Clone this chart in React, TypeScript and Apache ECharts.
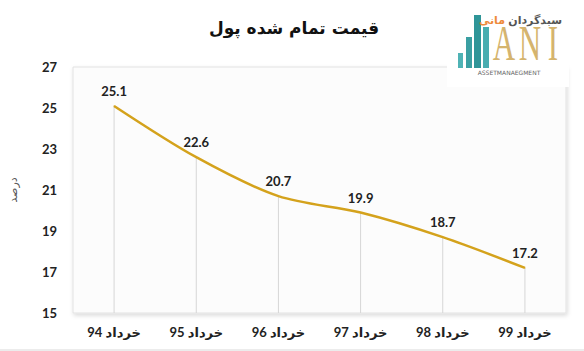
import React, { useEffect, useRef } from "react";
import * as echarts from "echarts";

const categories = ["خرداد 94", "خرداد 95", "خرداد 96", "خرداد 97", "خرداد 98", "خرداد 99"];
const values = [25.1, 22.6, 20.7, 19.9, 18.7, 17.2];
const yTicks = [15, 17, 19, 21, 23, 25, 27];
const titleText = "قیمت تمام شده پول";
const yName = "درصد";

const FONT = "Lato, 'DejaVu Sans', sans-serif";

export default function App() {
  const ref = useRef<HTMLDivElement>(null);
  useEffect(() => {
    if (!ref.current) return;
    const chart = echarts.init(ref.current, undefined, { renderer: "svg" });
    chart.setOption({
      animation: false,
      backgroundColor: "#ffffff",
      title: {
        text: titleText,
        left: 289,
        textAlign: "center",
        top: 14,
        textStyle: { fontFamily: "'DejaVu Sans', sans-serif", fontSize: 17, fontWeight: "bold", color: "#111" },
      },
      grid: {
        show: true,
        left: 67,
        right: 18,
        top: 67,
        bottom: 38,
        backgroundColor: "#fcfcfc",
        borderColor: "#e2e2e2",
        borderWidth: 1,
        shadowColor: "rgba(0,0,0,0.15)",
        shadowBlur: 4,
        shadowOffsetX: 1,
        shadowOffsetY: 2,
      },
      xAxis: {
        type: "category",
        data: categories,
        boundaryGap: true,
        axisLine: { show: false },
        axisTick: { show: false },
        axisLabel: { fontFamily: FONT, fontSize: 13, fontWeight: "bold", color: "#222", margin: 12 },
      },
      yAxis: {
        type: "value",
        min: yTicks[0],
        max: yTicks[yTicks.length - 1],
        interval: 2,
        name: yName,
        nameLocation: "middle",
        nameGap: 54,
        nameRotate: 90,
        nameTextStyle: { fontFamily: "'DejaVu Sans', sans-serif", fontSize: 11, color: "#555" },
        axisLine: { show: false },
        axisTick: { show: false },
        splitLine: { show: false },
        axisLabel: { fontFamily: FONT, fontSize: 13, fontWeight: "bold", color: "#222", margin: 16 },
      },
      series: [
        {
          type: "bar",
          data: values,
          barWidth: 1,
          silent: true,
          itemStyle: { color: "#d6d6d6" },
          z: 1,
        },
        {
          type: "line",
          data: values,
          smooth: 0.3,
          showSymbol: true,
          symbol: "circle",
          symbolSize: 1,
          itemStyle: { color: "#D4A21C" },
          lineStyle: { color: "#D4A21C", width: 2.5 },
          z: 3,
          label: {
            show: true,
            position: "top",
            distance: 8,
            fontFamily: FONT,
            fontSize: 13,
            fontWeight: "bold",
            color: "#222",
          },
        },
      ],
      graphic: [
        { type: "rect", z: 100, shape: { x: 447, y: 0, width: 122, height: 87 }, style: { fill: "#ffffff" } },
        { type: "rect", z: 101, shape: { x: 458, y: 53, width: 5, height: 15 }, style: { fill: "#4FB3B5" } },
        { type: "rect", z: 101, shape: { x: 466, y: 37, width: 6, height: 31 }, style: { fill: "#3A9FA2" } },
        { type: "rect", z: 101, shape: { x: 474, y: 15, width: 7, height: 53 }, style: { fill: "#2F9598" } },
        { type: "rect", z: 101, shape: { x: 483, y: 27, width: 6, height: 41 }, style: { fill: "#49ADB0" } },
        { type: "text", z: 101, x: 504, y: 68, scaleX: 0.62, style: { text: "A", fontFamily: "'Liberation Serif', serif", fontSize: 50, fill: "#D5B46E", align: "center", verticalAlign: "bottom" } },
        { type: "text", z: 101, x: 530, y: 68, scaleX: 0.62, style: { text: "N", fontFamily: "'Liberation Serif', serif", fontSize: 50, fill: "#D5B46E", align: "center", verticalAlign: "bottom" } },
        { type: "text", z: 101, x: 553, y: 68, scaleX: 0.62, style: { text: "I", fontFamily: "'Liberation Serif', serif", fontSize: 50, fill: "#D5B46E", align: "center", verticalAlign: "bottom" } },
        { type: "text", z: 101, x: 562, y: 20, style: { text: "سبدگردان", fontFamily: "'DejaVu Sans', sans-serif", fontSize: 11, fontWeight: "bold", fill: "#555", align: "right", verticalAlign: "middle" } },
        { type: "text", z: 101, x: 505, y: 20, style: { text: "مانی", fontFamily: "'DejaVu Sans', sans-serif", fontSize: 11, fontWeight: "bold", fill: "#EE8A3C", align: "right", verticalAlign: "middle" } },
        { type: "text", z: 101, x: 509, y: 72, style: { text: "ASSETMANAEGMENT", fontFamily: "'DejaVu Sans', sans-serif", fontSize: 6, fill: "#666", align: "center", verticalAlign: "middle" } },
        { type: "line", z: 101, shape: { x1: 0, y1: 350, x2: 584, y2: 350 }, style: { stroke: "#d9d9d9", lineWidth: 1 } },
      ],
    });
    return () => chart.dispose();
  }, []);
  return <div ref={ref} style={{ position: "absolute", left: 0, top: 0, width: 584, height: 351 }} />;
}
